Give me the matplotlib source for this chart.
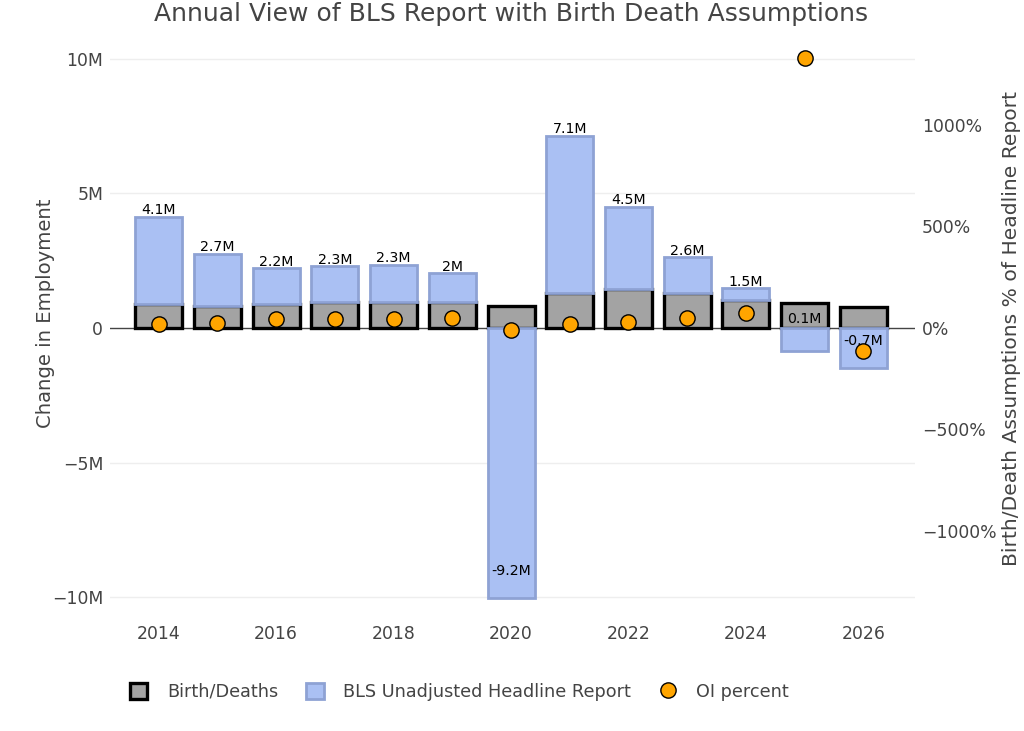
import matplotlib
matplotlib.use("Agg")
import matplotlib.pyplot as plt
from matplotlib.patches import Patch
from matplotlib.lines import Line2D
from matplotlib.ticker import FuncFormatter
import numpy as np

# ---- data (millions / percent) ----
years = [2014, 2015, 2016, 2017, 2018, 2019, 2020, 2021, 2022, 2023, 2024, 2025, 2026]
birth_deaths = [0.88, 0.80, 0.90, 0.97, 0.97, 0.98, 0.82, 1.29, 1.44, 1.29, 1.04, 0.92, 0.77]
headline = [4.14, 2.74, 2.21, 2.29, 2.34, 2.03, -9.22, 7.14, 4.49, 2.62, 1.47, 0.07, -0.73]
oi_percent = [20, 27, 43, 43, 44, 50, -12, 18, 31, 50, 72, 1332, -112]
x_ticks = [2014, 2016, 2018, 2020, 2022, 2024, 2026]
left_ticks = [-10, -5, 0, 5, 10]
right_ticks = [-1000, -500, 0, 500, 1000]

TXT = "#444444"
W, H = 1024, 731
fig = plt.figure(figsize=(W / 100, H / 100), dpi=100)
L, R, T, B = 110, 915, 40, 615
ax = fig.add_axes([L / W, 1 - B / H, (R - L) / W, (B - T) / H])

px_per_m = 26.93
zero_px = 328
ax.set_ylim(-(B - zero_px) / px_per_m, (zero_px - T) / px_per_m)
ax.set_xlim(2013.17, 2026.88)

yrs = np.array(years)
bd = np.array(birth_deaths)
hl = np.array(headline)
seg = hl - bd  # headline stacked on top of birth/deaths (relative mode)
base = np.where(seg >= 0, bd, 0.0)

ax.axhline(0, color=TXT, lw=1.0, zorder=1)
for t in [-10, -5, 5, 10]:
    ax.axhline(t, color="#eeeeee", lw=1.0, zorder=0)

ax.bar(yrs, bd, width=0.8, color="#a3a3a3", edgecolor="black", linewidth=2.4, zorder=2,
       label="Birth/Deaths")
ax.bar(yrs, seg, bottom=base, width=0.8, color="#aac0f3", edgecolor="#8ea2d4",
       linewidth=2.0, zorder=3, label="BLS Unadjusted Headline Report")

def fmt_label(v):
    s = f"{round(v, 1):.1f}"
    if s.endswith(".0"):
        s = s[:-2]
    return s + "M"

FS_BAR = 10.2
for x, h, b, s in zip(yrs, hl, base, seg):
    lab = fmt_label(h)
    if h >= 1:
        ax.annotate(lab, (x, b + s), xytext=(0, 2), textcoords="offset points",
                    ha="center", va="baseline", fontsize=FS_BAR, color="black", zorder=5)
    elif h <= -5:
        ax.annotate(lab, (x, s), xytext=(0, 17), textcoords="offset points",
                    ha="center", va="baseline", fontsize=FS_BAR, color="black", zorder=5)
    elif h >= 0:
        ax.annotate(lab, (x, 0), xytext=(0, 3.6), textcoords="offset points",
                    ha="center", va="baseline", fontsize=FS_BAR, color="black", zorder=5)
    else:
        ax.annotate(lab, (x, 0), xytext=(0, -12), textcoords="offset points",
                    ha="center", va="baseline", fontsize=FS_BAR, color="black", zorder=5)

for sp in ax.spines.values():
    sp.set_visible(False)
ax.set_xticks(x_ticks)
ax.set_xticklabels([str(t) for t in x_ticks])
ax.set_yticks(left_ticks)
ax.yaxis.set_major_formatter(FuncFormatter(
    lambda v, p: "0" if v == 0 else (f"{int(v)}M".replace("-", "\u2212"))))
ax.tick_params(axis="both", length=0, labelsize=12.4, colors=TXT)
ax.tick_params(axis="x", pad=7)
ax.tick_params(axis="y", pad=5)
ax.set_ylabel("Change in Employment", fontsize=14.1, color=TXT)
ax.yaxis.set_label_coords((55 - L) / (R - L), (B - 313) / (B - T))

ax2 = ax.twinx()
pct_per_px = 1000 / 203.0
ax2.set_ylim(-(B - zero_px) * pct_per_px, (zero_px - T) * pct_per_px)
ax2.plot(yrs, oi_percent, linestyle="none", marker="o", markersize=11,
         markerfacecolor="#ffa500", markeredgecolor="black", markeredgewidth=1.0,
         zorder=6, label="OI percent")
for sp in ax2.spines.values():
    sp.set_visible(False)
ax2.set_yticks(right_ticks)
ax2.yaxis.set_major_formatter(FuncFormatter(
    lambda v, p: f"{int(v)}%".replace("-", "\u2212")))
ax2.tick_params(axis="y", length=0, labelsize=12.4, colors=TXT, pad=5)
ax2.set_ylabel("Birth/Death Assumptions % of Headline Report", fontsize=14.6, color=TXT)
ax2.yaxis.set_label_coords((1002 - L) / (R - L), (B - 328) / (B - T))

fig.text(511 / W, 1 - 14 / H, "Annual View of BLS Report with Birth Death Assumptions",
         ha="center", va="center", fontsize=18.0, color=TXT)

handles = [
    Patch(facecolor="#a3a3a3", edgecolor="black", linewidth=2.4),
    Patch(facecolor="#aac0f3", edgecolor="#8ea2d4", linewidth=2.0),
    Line2D([], [], linestyle="none", marker="o", markersize=11,
           markerfacecolor="#ffa500", markeredgecolor="black", markeredgewidth=1.0),
]
labels = ["Birth/Deaths", "BLS Unadjusted Headline Report", "OI percent"]
leg = fig.legend(handles, labels, loc="center left", bbox_to_anchor=(121 / W, 1 - 692 / H),
                 ncol=3, frameon=False, fontsize=12.7, handlelength=1.0, handleheight=1.0,
                 handletextpad=1.1, columnspacing=1.6, borderpad=0)
for t in leg.get_texts():
    t.set_color(TXT)

fig.savefig("out.png", dpi=100)
